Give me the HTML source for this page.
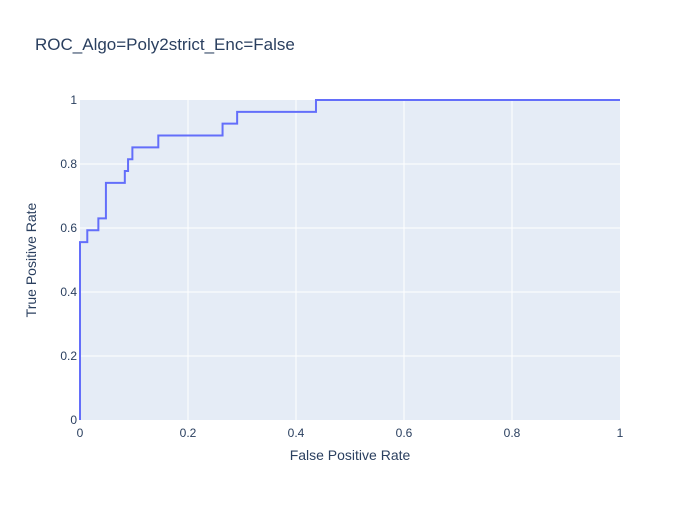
<!DOCTYPE html>
<html><head><meta charset="utf-8"><style>
body{margin:0;background:#fff;font-family:"Liberation Sans",sans-serif}
</style></head><body>
<svg id="c" width="700" height="500" xmlns="http://www.w3.org/2000/svg">
<rect width="700" height="500" fill="#fff"/>
<rect x="80" y="100" width="540" height="320" fill="#e5ecf6"/>
<g id="grid"></g>
<g id="ticks" font-size="12" fill="#2a3f5f"></g>
<path id="roc" fill="none" stroke="#636efa" stroke-width="2"/>
<text x="35" y="50" font-size="17" fill="#2a3f5f">ROC_Algo=Poly2strict_Enc=False</text>
<text x="350" y="460" font-size="14" fill="#2a3f5f" text-anchor="middle">False Positive Rate</text>
<text x="0" y="0" font-size="14" fill="#2a3f5f" text-anchor="middle" transform="translate(36,260) rotate(-90)">True Positive Rate</text>
</svg>
<script>
const fpr=[0,0,0.0135,0.0135,0.034,0.034,0.048,0.048,0.083,0.083,0.089,0.089,0.097,0.097,0.145,0.145,0.264,0.264,0.291,0.291,0.437,0.437,1];
const tpr=[0,0.556,0.556,0.593,0.593,0.630,0.630,0.741,0.741,0.778,0.778,0.815,0.815,0.852,0.852,0.889,0.889,0.926,0.926,0.963,0.963,1,1];
const xTicks=[0,0.2,0.4,0.6,0.8,1];
const yTicks=[0,0.2,0.4,0.6,0.8,1];
const xTickLabels=["0","0.2","0.4","0.6","0.8","1"];
const yTickLabels=["0","0.2","0.4","0.6","0.8","1"];
const X=v=>80+v*540, Y=v=>420-v*320;
const ns="http://www.w3.org/2000/svg";
const grid=document.getElementById('grid'), ticks=document.getElementById('ticks');
xTicks.forEach((t,i)=>{
 if(t>0&&t<1){const l=document.createElementNS(ns,'line');
 
 
 l.setAttribute('x1',X(t));l.setAttribute('x2',X(t));l.setAttribute('y1',100);l.setAttribute('y2',420);l.setAttribute('stroke','#fff');l.setAttribute('stroke-width',1);grid.appendChild(l);}
 const tx=document.createElementNS(ns,'text');
 
 
 tx.setAttribute('x',X(t));tx.setAttribute('y',437);tx.setAttribute('text-anchor','middle');tx.textContent=xTickLabels[i];ticks.appendChild(tx);
});
yTicks.forEach((t,i)=>{
 if(t>0&&t<1){const l=document.createElementNS(ns,'line');
 
 
 l.setAttribute('y1',Y(t));l.setAttribute('y2',Y(t));l.setAttribute('x1',80);l.setAttribute('x2',620);l.setAttribute('stroke','#fff');l.setAttribute('stroke-width',1);grid.appendChild(l);}
 const tx=document.createElementNS(ns,'text');
 
 
 tx.setAttribute('x',77);tx.setAttribute('y',Y(t)+4);tx.setAttribute('text-anchor','end');tx.textContent=yTickLabels[i];ticks.appendChild(tx);
});
document.getElementById('roc').setAttribute('d',fpr.map((f,i)=>(i?'L':'M')+X(f)+','+Y(tpr[i])).join(''));
</script>
</body></html>
